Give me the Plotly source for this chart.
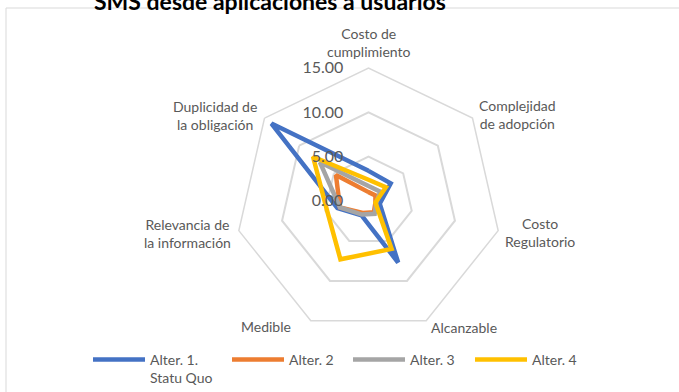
import math
import plotly.graph_objects as go

# Evaluation criteria, clockwise from the top of the radar
categories = [
    "Costo de cumplimiento",
    "Complejidad de adopción",
    "Costo Regulatorio",
    "Alcanzable",
    "Medible",
    "Relevancia de la información",
    "Duplicidad de la obligación",
]
category_labels = [
    "Costo de<br>cumplimiento",
    "Complejidad<br>de adopción",
    "Costo<br>Regulatorio",
    "Alcanzable",
    "Medible",
    "Relevancia de<br>la información",
    "Duplicidad de<br>la obligación",
]

# Scores per alternative
alter_1 = [3.4, 3.2, 1.3, 7.7, 1.8, 3.6, 14.0]
alter_2 = [1.0, 1.0, 0.8, 1.4, 1.5, 3.3, 4.7]
alter_3 = [1.7, 1.7, 0.9, 1.6, 1.7, 3.3, 7.0]
alter_4 = [2.4, 2.5, 0.8, 6.0, 7.3, 4.8, 8.0]

series_names = ["Alter. 1.<br>Statu Quo", "Alter. 2", "Alter. 3", "Alter. 4"]
series_values = [alter_1, alter_2, alter_3, alter_4]
series_colors = ["#4472C4", "#ED7D31", "#A5A5A5", "#FFC000"]

radial_ticks = [0, 5, 10, 15]

W, H = 679, 392
TEXT = "#595959"
GRID = "#D9D9D9"
FONT = "Lato, 'Open Sans', sans-serif"

# polar area: centre (368.5, 201) px from top-left, outer radius 133 px
cx, cy, rad = 368.5, 201, 133

fig = go.Figure()
legend_ids = ["legend", "legend2", "legend3", "legend4"]
for name, vals, color, lg in zip(series_names, series_values, series_colors, legend_ids):
    fig.add_trace(
        go.Scatterpolar(
            r=vals + vals[:1],
            theta=categories + categories[:1],
            mode="lines",
            name=name,
            legend=lg,
            line=dict(color=color, width=4.5),
        )
    )

# Category labels placed just outside each outer vertex of the heptagon
# (dx, dy offset in px from the vertex, horizontal anchor)
label_place = [
    (0, -25.5, "center"),
    (5, -3.5, "left"),
    (5, 2, "left"),
    (3, 7, "left"),
    (-18, 6, "right"),
    (-6, 2.5, "right"),
    (-6, -3, "right"),
]
annotations = []
n = len(categories)
for i, (label, (dx, dy, xa)) in enumerate(zip(category_labels, label_place)):
    ang = math.radians(90 - i * 360 / n)
    vx = cx + rad * math.cos(ang)
    vy = cy - rad * math.sin(ang)
    annotations.append(
        dict(
            text=label,
            xref="paper",
            yref="paper",
            x=(vx + dx) / W,
            y=1 - (vy + dy) / H,
            xanchor=xa,
            yanchor="middle",
            align="center",
            showarrow=False,
            font=dict(size=14, color=TEXT, family=FONT),
        )
    )

annotations.append(
    dict(
        text="<b>SMS desde aplicaciones a usuarios</b>",
        xref="paper",
        yref="paper",
        x=269.5 / W,
        y=1 - 0.5 / H,
        xanchor="center",
        yanchor="middle",
        showarrow=False,
        font=dict(size=23, color="black", family=FONT),
    )
)

# one legend per series so each entry sits at its own position
legend_x = [88, 227, 348, 470]
legend_common = dict(
    orientation="h",
    xanchor="left",
    y=1 - 344 / H,
    yanchor="top",
    valign="top",
    font=dict(size=14, color=TEXT, family=FONT),
    itemwidth=52,
    bgcolor="rgba(0,0,0,0)",
)

fig.update_layout(
    width=W,
    height=H,
    margin=dict(l=0, r=0, t=0, b=0, autoexpand=False),
    paper_bgcolor="white",
    plot_bgcolor="white",
    font=dict(family=FONT, color=TEXT, size=14),
    showlegend=True,
    polar=dict(
        domain=dict(
            x=[(cx - rad) / W, (cx + rad) / W],
            y=[(H - cy - rad) / H, (H - cy + rad) / H],
        ),
        bgcolor="white",
        gridshape="linear",
        radialaxis=dict(
            range=[0, 15],
            tickvals=radial_ticks,
            tickformat=".2f",
            angle=90,
            tickangle=90,
            side="counterclockwise",
            showline=False,
            ticks="outside",
            ticklen=19,
            tickcolor="rgba(0,0,0,0)",
            showgrid=True,
            gridcolor=GRID,
            gridwidth=1.5,
            tickfont=dict(size=16, color=TEXT, family=FONT),
        ),
        angularaxis=dict(
            rotation=90,
            direction="clockwise",
            categoryorder="array",
            categoryarray=categories,
            showticklabels=False,
            showgrid=False,
            showline=True,
            linecolor=GRID,
            linewidth=1.5,
            ticks="",
        ),
    ),
    legend=dict(x=legend_x[0] / W, **legend_common),
    legend2=dict(x=legend_x[1] / W, **legend_common),
    legend3=dict(x=legend_x[2] / W, **legend_common),
    legend4=dict(x=legend_x[3] / W, **legend_common),
    shapes=[
        dict(
            type="rect",
            xref="paper",
            yref="paper",
            x0=6 / W,
            x1=1.05,
            y0=-0.05,
            y1=1 - 8 / H,
            line=dict(color=GRID, width=1),
            fillcolor="rgba(0,0,0,0)",
            layer="below",
        )
    ],
    annotations=annotations,
)

fig.write_html("out.html")
